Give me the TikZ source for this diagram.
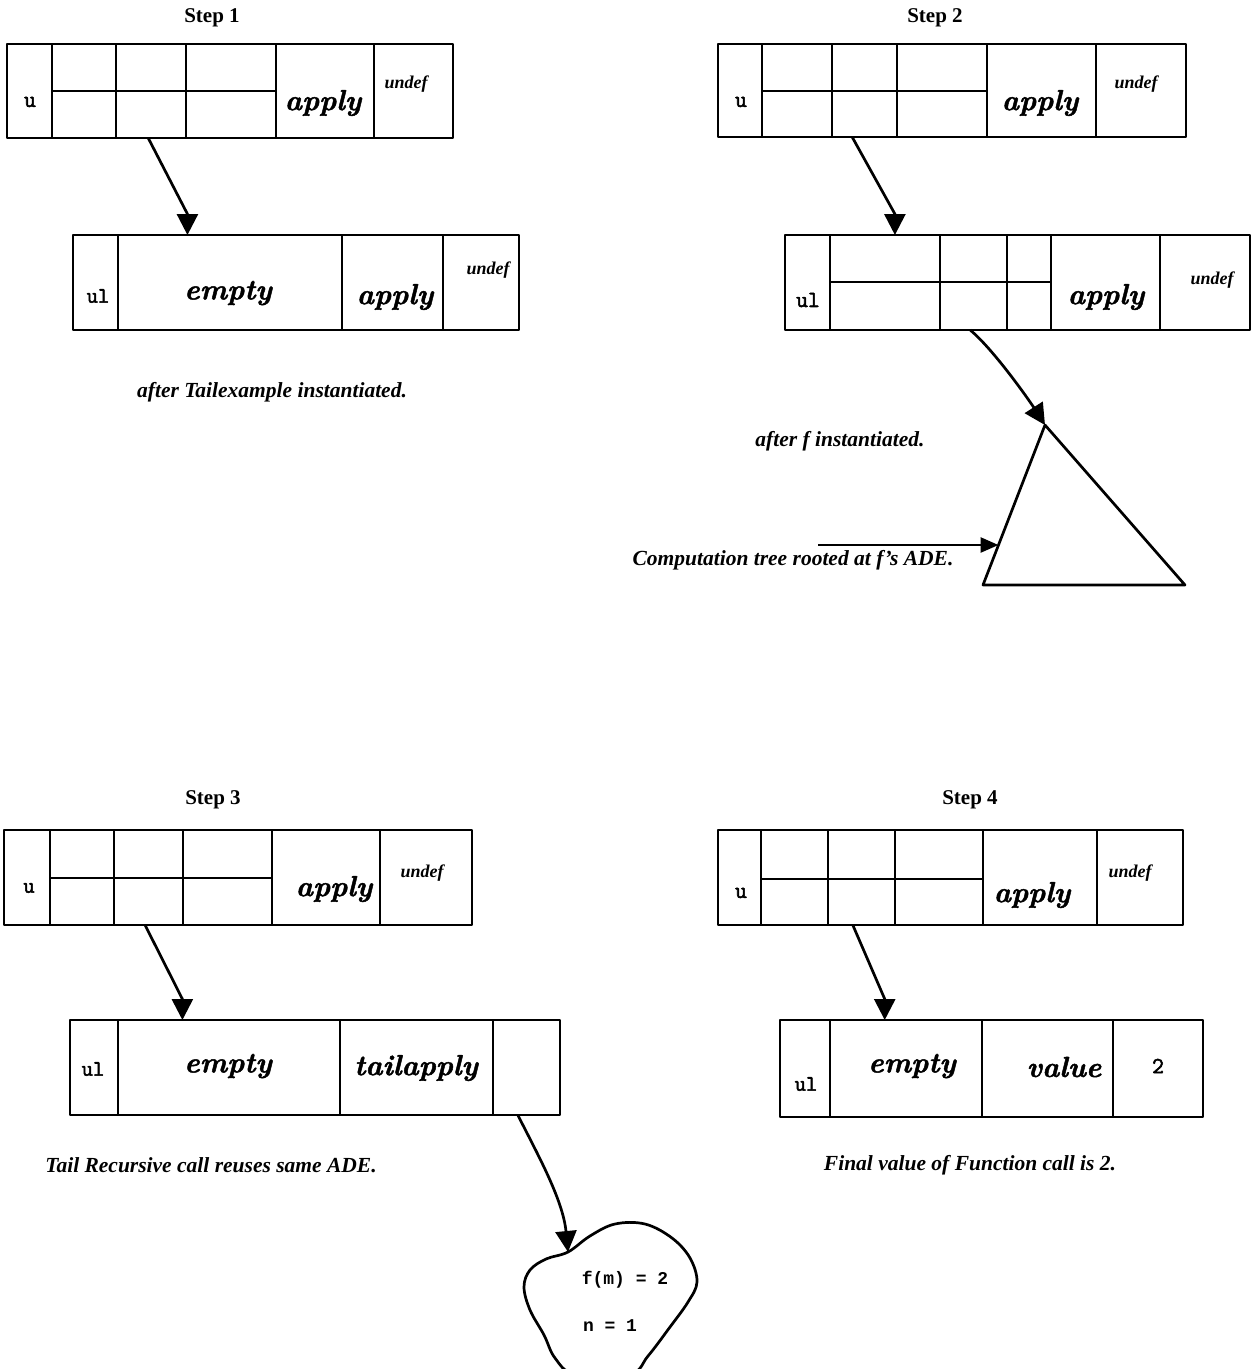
\documentclass[tikz,border=0pt]{standalone}
\usepackage{fontspec}
\setmainfont{Liberation Serif}
\newfontfamily\monof[FakeBold=2.5]{Latin Modern Mono}
\newfontfamily\blobf{Liberation Mono}
\newfontfamily\handf[FakeBold=1.6]{lmroman10-bolditalic.otf}
\usetikzlibrary{arrows.meta,calc,fit}
\newcommand\mkcell[5]{\node[cell, fit={(#2,#3) (#4,#5)}] (#1) {};}
\begin{document}
\begin{tikzpicture}[x=1pt,y=-1pt,line join=round,
  cell/.style={draw, line width=2.7pt, inner sep=0pt, outer sep=0pt},
  hand/.style={font=\handf\fontsize{29}{32}\selectfont, inner sep=0pt},
  undefs/.style={font=\fontsize{18}{20}\selectfont\bfseries\itshape, inner sep=0pt},
  mono/.style={font=\monof\fontsize{22}{24}\selectfont, inner sep=0pt},
  monob/.style={font=\monof\fontsize{23}{24}\selectfont, inner sep=0pt},
  blobtxt/.style={font=\blobf\bfseries\fontsize{18}{20}\selectfont, inner sep=0pt},
  captxt/.style={font=\fontsize{21.5}{24}\selectfont\bfseries\itshape, inner sep=0pt},
  steplbl/.style={font=\fontsize{21}{24}\selectfont\bfseries, inner sep=0pt},
  conn/.style={line width=2.7pt, -{Triangle[length=21pt,width=21pt]}},
  conns/.style={line width=2.7pt, -{Triangle[length=18pt,width=15pt]}},
  plain/.style={line width=2.7pt}]
\useasboundingbox (0,0) rectangle (1252,1369);

% ---------------- Step 1 ----------------
\node[steplbl] (st1) at (212,18) {Step 1};
\mkcell{s1u}{7}{44}{52}{138}
\mkcell{s1a1}{52}{44}{116}{91}
\mkcell{s1b1}{52}{91}{116}{138}
\mkcell{s1a2}{116}{44}{186}{91}
\mkcell{s1b2}{116}{91}{186}{138}
\mkcell{s1a3}{186}{44}{276}{91}
\mkcell{s1b3}{186}{91}{276}{138}
\mkcell{s1ap}{276}{44}{374}{138}
\mkcell{s1ud}{374}{44}{453}{138}
\node[monob] (t1u) at (30,102) {u};
\node[hand] (t1ap) at (323,103) {apply};
\node[undefs] (t1ud) at (406,84) {undef};

\mkcell{s1l}{73}{235}{118}{330}
\mkcell{s1e}{118}{235}{342}{330}
\mkcell{s1p}{342}{235}{443}{330}
\mkcell{s1d}{443}{235}{519}{330}
\node[mono] (t1ul) at (98,296) {ul};
\node[hand] (t1em) at (228,293) {empty};
\node[hand] (t1ap2) at (395,297) {apply};
\node[undefs] (t1ud2) at (488,270) {undef};

\coordinate (s1tip) at ($(s1e.north west)!0.31!(s1e.north east)$);
\draw[conn] ($(s1b2.south west)!0.46!(s1b2.south east)$) -- ($(s1tip)+(0,-21)$) -- (s1tip);
\node[captxt] (c1) at (272,392) {after Tailexample instantiated.};

% ---------------- Step 2 ----------------
\node[steplbl] (st2) at (935,18) {Step 2};
\mkcell{s2u}{718}{44}{762}{137}
\mkcell{s2a1}{762}{44}{832}{91}
\mkcell{s2b1}{762}{91}{832}{137}
\mkcell{s2a2}{832}{44}{897}{91}
\mkcell{s2b2}{832}{91}{897}{137}
\mkcell{s2a3}{897}{44}{987}{91}
\mkcell{s2b3}{897}{91}{987}{137}
\mkcell{s2ap}{987}{44}{1096}{137}
\mkcell{s2ud}{1096}{44}{1186}{137}
\node[monob] (t2u) at (741,102) {u};
\node[hand] (t2ap) at (1040,103) {apply};
\node[undefs] (t2ud) at (1136,84) {undef};

\mkcell{s2l}{785}{235}{830}{330}
\mkcell{s2la1}{830}{235}{940}{282}
\mkcell{s2lb1}{830}{282}{940}{330}
\mkcell{s2la2}{940}{235}{1007}{282}
\mkcell{s2lb2}{940}{282}{1007}{330}
\mkcell{s2la3}{1007}{235}{1051}{282}
\mkcell{s2lb3}{1007}{282}{1051}{330}
\mkcell{s2lap}{1051}{235}{1160}{330}
\mkcell{s2lud}{1160}{235}{1250}{330}
\node[monob] (t2ul) at (808,300) {ul};
\node[hand] (t2ap2) at (1106,297) {apply};
\node[undefs] (t2ud2) at (1212,280) {undef};

\coordinate (s2tip) at ($(s2la1.north west)!0.59!(s2la1.north east)$);
\draw[conn] ($(s2b2.south west)!0.31!(s2b2.south east)$) -- ($(s2tip)+(0,-21)$) -- (s2tip);

% computation tree
\coordinate (apex) at (1045,425);
\coordinate (tbl) at (983,585);
\coordinate (tbr) at (1185,585);
\draw[plain] (apex) -- (tbl) -- (tbr) -- cycle;
\coordinate (s2from) at ($(s2lb2.south west)!0.45!(s2lb2.south east)$);
\draw[conn] (s2from) .. controls ($(s2from)+(23,19)$) and ($(apex)+(-16,-25)$) .. (apex);
\coordinate (hstart) at (818,545);
\coordinate (hend) at ($(apex)!0.75!(tbl)$);
\draw[conns] (hstart) -- (hend);
\node[captxt] (c2a) at (840,441) {after f instantiated.};
\node[captxt] (c2b) at (793,560) {Computation tree rooted at f's ADE.};

% ---------------- Step 3 ----------------
\node[steplbl] (st3) at (213,800) {Step 3};
\mkcell{s3u}{4}{830}{50}{925}
\mkcell{s3a1}{50}{830}{114}{878}
\mkcell{s3b1}{50}{878}{114}{925}
\mkcell{s3a2}{114}{830}{183}{878}
\mkcell{s3b2}{114}{878}{183}{925}
\mkcell{s3a3}{183}{830}{272}{878}
\mkcell{s3b3}{183}{878}{272}{925}
\mkcell{s3ap}{272}{830}{380}{925}
\mkcell{s3ud}{380}{830}{472}{925}
\node[mono] (t3u) at (29,888) {u};
\node[hand] (t3ap) at (334,889) {apply};
\node[undefs] (t3ud) at (422,873) {undef};

\mkcell{s3l}{70}{1020}{118}{1115}
\mkcell{s3e}{118}{1020}{340}{1115}
\mkcell{s3t}{340}{1020}{493}{1115}
\mkcell{s3d}{493}{1020}{560}{1115}
\node[mono] (t3ul) at (93,1069) {ul};
\node[hand] (t3em) at (228,1066) {empty};
\node[hand] (t3ta) at (416,1068) {tailapply};

\coordinate (s3tip) at ($(s3e.north west)!0.29!(s3e.north east)$);
\draw[conn] ($(s3b2.south west)!0.45!(s3b2.south east)$) -- ($(s3tip)+(0,-21)$) -- (s3tip);
\node[captxt] (c3) at (211,1165) {Tail Recursive call reuses same ADE.};

% blob
\coordinate (blobtip) at (568,1252);
\draw[plain] plot[smooth cycle, tension=0.6] coordinates {
  (568,1252) (546,1259) (530,1270) (524,1287) (530,1310) (544,1335)
  (555,1358) (575,1374) (630,1374) (648,1356) (670,1327) (688,1302)
  (697,1282) (690,1258) (672,1238) (645,1224) (615,1224) (590,1236)};
\draw[conn] ($(s3d.south west)!0.37!(s3d.south east)$) .. controls (538,1155) and (563,1200) .. (blobtip);
\node[blobtxt] (bf) at (625,1280) {f(m) = 2};
\node[blobtxt] (bn) at (610,1326) {n = 1};

% ---------------- Step 4 ----------------
\node[steplbl] (st4) at (970,800) {Step 4};
\mkcell{s4u}{718}{830}{761}{925}
\mkcell{s4a1}{761}{830}{828}{879}
\mkcell{s4b1}{761}{879}{828}{925}
\mkcell{s4a2}{828}{830}{895}{879}
\mkcell{s4b2}{828}{879}{895}{925}
\mkcell{s4a3}{895}{830}{983}{879}
\mkcell{s4b3}{895}{879}{983}{925}
\mkcell{s4ap}{983}{830}{1097}{925}
\mkcell{s4ud}{1097}{830}{1183}{925}
\node[monob] (t4u) at (741,893) {u};
\node[hand] (t4ap) at (1032,895) {apply};
\node[undefs] (t4ud) at (1130,873) {undef};

\mkcell{s4l}{780}{1020}{830}{1117}
\mkcell{s4e}{830}{1020}{982}{1117}
\mkcell{s4v}{982}{1020}{1113}{1117}
\mkcell{s4n}{1113}{1020}{1203}{1117}
\node[mono] (t4ul) at (806,1084) {ul};
\node[hand] (t4em) at (912,1066) {empty};
\node[hand] (t4va) at (1064,1067) {value};
\node[monob] (t4n) at (1158,1066) {2};

\coordinate (s4tip) at ($(s4e.north west)!0.36!(s4e.north east)$);
\draw[conn] ($(s4b2.south west)!0.37!(s4b2.south east)$) -- ($(s4tip)+(0,-21)$) -- (s4tip);
\node[captxt] (c4) at (970,1165) {Final value of Function call is 2.};
\end{tikzpicture}
\end{document}
